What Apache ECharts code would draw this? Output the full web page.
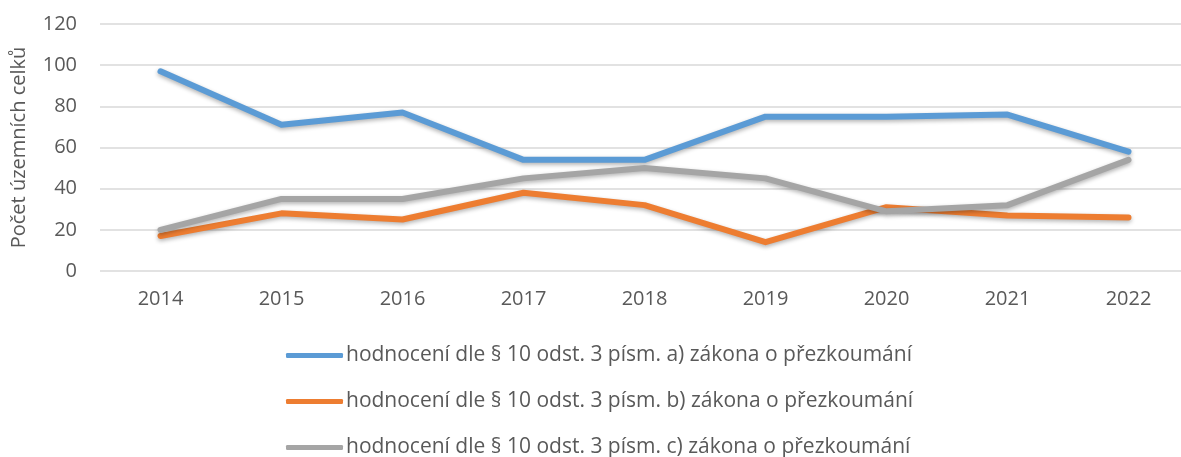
<!DOCTYPE html>
<html>
<head>
<meta charset="utf-8">
<script src="https://cdn.jsdelivr.net/npm/echarts@6/dist/echarts.min.js"></script>
<style>
  html, body { margin: 0; padding: 0; background: #fff; }
  #chart { width: 1181px; height: 457px; }
</style>
</head>
<body>
<div id="chart"></div>
<script>
  // roky na ose x
  var years = ['2014', '2015', '2016', '2017', '2018', '2019', '2020', '2021', '2022'];
  var seriesNames = [
    'hodnocení dle § 10 odst. 3 písm. a) zákona o přezkoumání',
    'hodnocení dle § 10 odst. 3 písm. b) zákona o přezkoumání',
    'hodnocení dle § 10 odst. 3 písm. c) zákona o přezkoumání'
  ];
  var valuesA = [97, 71, 77, 54, 54, 75, 75, 76, 58];
  var valuesB = [17, 28, 25, 38, 32, 14, 31, 27, 26];
  var valuesC = [20, 35, 35, 45, 50, 45, 29, 32, 54];
  var colors = ['#5B9BD5', '#ED7D31', '#A5A5A5'];

  var font = '"Open Sans", sans-serif';

  function makeSeries(name, data, color) {
    return {
      name: name,
      type: 'line',
      data: data,
      symbol: 'none',
      lineStyle: {
        width: 6,
        color: color,
        cap: 'round',
        join: 'round',
        shadowColor: 'rgba(0,0,0,0.3)',
        shadowBlur: 4,
        shadowOffsetY: 2
      },
      itemStyle: { color: color }
    };
  }

  var myChart = echarts.init(document.getElementById('chart'));
  var option = {
    backgroundColor: '#fff',
    animation: false,
    grid: {
      left: 100,
      top: 24,
      width: 1089,
      height: 247,
      outerBoundsMode: 'none'
    },
    legend: {
      orient: 'vertical',
      left: 286,
      top: 345,
      height: 140,
      padding: 0,
      itemWidth: 57,
      itemHeight: 5,
      itemGap: 25,
      icon: 'roundRect',
      textStyle: {
        fontFamily: font,
        fontSize: 21,
        color: '#595959',
        padding: [0, 0, 0, -2]
      },
      data: seriesNames
    },
    xAxis: {
      type: 'category',
      data: years,
      boundaryGap: true,
      axisLine: { show: false },
      axisTick: { show: false },
      axisLabel: {
        fontFamily: font,
        fontSize: 20,
        color: '#595959',
        margin: 18
      }
    },
    yAxis: {
      type: 'value',
      min: 0,
      max: 120,
      interval: 20,
      name: 'Počet územních celků',
      nameLocation: 'middle',
      nameGap: 71,
      nameTextStyle: {
        fontFamily: font,
        fontSize: 20,
        color: '#595959'
      },
      axisLine: { show: false },
      axisTick: { show: false },
      axisLabel: {
        fontFamily: font,
        fontSize: 20,
        color: '#595959',
        margin: 23
      },
      splitLine: {
        lineStyle: { color: '#D9D9D9', width: 1.5 }
      }
    },
    series: [
      makeSeries(seriesNames[0], valuesA, colors[0]),
      makeSeries(seriesNames[1], valuesB, colors[1]),
      makeSeries(seriesNames[2], valuesC, colors[2])
    ]
  };
  myChart.setOption(option);
</script>
</body>
</html>
